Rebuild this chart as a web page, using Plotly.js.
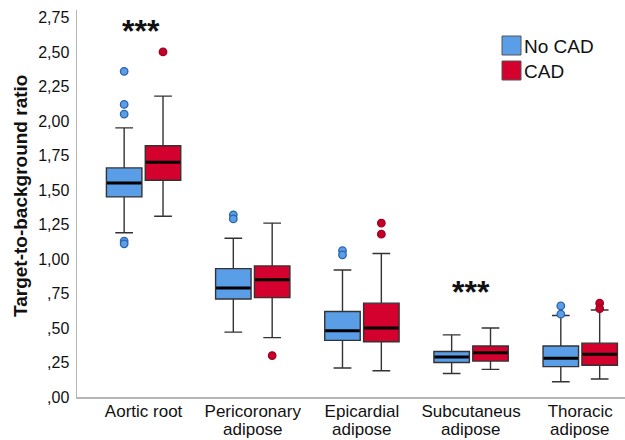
<!DOCTYPE html>
<html>
<head>
<meta charset="utf-8">
<script src="https://cdn.plot.ly/plotly-3.0.1.min.js"></script>
<style>html,body{margin:0;padding:0;background:#fff;}#chart{width:625px;height:440px;}</style>
</head>
<body>
<div id="chart"></div>
<script>
// ---- Data ----
const categories = ['Aortic root', 'Pericoronary', 'Epicardial', 'Subcutaneus', 'Thoracic'];
const categoryLine1 = ['Aortic root', 'Pericoronary', 'Epicardial', 'Subcutaneus', 'Thoracic'];
const categoryLine2 = ['', 'adipose', 'adipose', 'adipose', 'adipose'];

const noCadQ1     = [1.45, 0.71, 0.41, 0.25, 0.22];
const noCadMedian = [1.55, 0.79, 0.48, 0.29, 0.28];
const noCadQ3     = [1.66, 0.93, 0.62, 0.33, 0.37];
const noCadLow    = [1.19, 0.47, 0.21, 0.17, 0.11];
const noCadHigh   = [1.95, 1.15, 0.92, 0.45, 0.59];

const cadQ1     = [1.57, 0.72, 0.40, 0.26, 0.23];
const cadMedian = [1.70, 0.85, 0.50, 0.32, 0.31];
const cadQ3     = [1.82, 0.95, 0.68, 0.37, 0.39];
const cadLow    = [1.31, 0.43, 0.19, 0.20, 0.13];
const cadHigh   = [2.18, 1.26, 1.04, 0.50, 0.63];

const noCadOutX = ['Aortic root', 'Aortic root', 'Aortic root', 'Aortic root', 'Aortic root', 'Pericoronary', 'Pericoronary', 'Epicardial', 'Epicardial', 'Thoracic', 'Thoracic'];
const noCadOutY = [2.36, 2.12, 2.05, 1.13, 1.11, 1.32, 1.29, 1.06, 1.03, 0.66, 0.60];
const cadOutX = ['Aortic root', 'Pericoronary', 'Epicardial', 'Epicardial', 'Thoracic', 'Thoracic'];
const cadOutY = [2.50, 0.30, 1.26, 1.18, 0.68, 0.64];

const yTickVals = [0, 0.25, 0.5, 0.75, 1, 1.25, 1.5, 1.75, 2, 2.25, 2.5, 2.75];
const yTickText = [',00', ',25', ',50', ',75', '1,00', '1,25', '1,50', '1,75', '2,00', '2,25', '2,50', '2,75'];

const yTitle = 'Target-to-background ratio';
const seriesNames = ['No CAD', 'CAD'];
const sigLabels = ['***', '***'];
const sigCats = ['Aortic root', 'Subcutaneus'];
const sigY = [2.65, 0.76];

// ---- Styles ----
const FONT = 'Liberation Sans, Arial, sans-serif';
const BLUE = '#5b9ee8';
const RED = '#d4002e';
const GAP = 0.288;

function boxTrace(name, q1, med, q3, lo, hi, color, grp) {
  return {
    type: 'box', name: name, x: categories,
    q1: q1, median: med, q3: q3, lowerfence: lo, upperfence: hi,
    boxpoints: false, fillcolor: color, whiskerwidth: 0.5,
    line: {color: '#333333', width: 1.4},
    offsetgroup: grp, showlegend: false, hoverinfo: 'skip'
  };
}
function medianTrace(med, grp) {
  return {
    type: 'scatter', mode: 'markers', x: categories, y: med,
    offsetgroup: grp, alignmentgroup: 'g', showlegend: false, hoverinfo: 'skip',
    marker: {symbol: 'line-ew', size: 24.5, line: {color: '#000', width: 3}}
  };
}
function outTrace(xs, ys, fill, edge, grp) {
  return {
    type: 'scatter', mode: 'markers', x: xs, y: ys,
    offsetgroup: grp, alignmentgroup: 'g', showlegend: false, hoverinfo: 'skip',
    marker: {symbol: 'circle', size: 7.5, color: fill, line: {color: edge, width: 1.3}}
  };
}

const data = [
  boxTrace(seriesNames[0], noCadQ1, noCadMedian, noCadQ3, noCadLow, noCadHigh, BLUE, 'a'),
  boxTrace(seriesNames[1], cadQ1, cadMedian, cadQ3, cadLow, cadHigh, RED, 'b'),
  medianTrace(noCadMedian, 'a'),
  medianTrace(cadMedian, 'b'),
  outTrace(noCadOutX, noCadOutY, BLUE, '#2d62a8', 'a'),
  outTrace(cadOutX, cadOutY, '#c4002a', '#a00020', 'b')
];

const annotations = sigLabels.map((t, i) => ({
  x: sigCats[i], y: sigY[i], xref: 'x', yref: 'y', text: '<b>' + t + '</b>',
  showarrow: false, font: {family: FONT, size: 32, color: '#111'}, yanchor: 'middle',
  xshift: i === 0 ? -3 : 0
}));
// second line of the category labels
categories.forEach((c, i) => {
  if (categoryLine2[i]) annotations.push({
    x: c, xref: 'x', yref: 'paper', y: -(429.5 - 397) / 387, yanchor: 'middle',
    text: categoryLine2[i], showarrow: false, font: {family: FONT, size: 17, color: '#111'}
  });
});
// y-axis title
annotations.push({
  xref: 'paper', yref: 'paper', x: -(77 - 20) / 548, y: (397 - 196) / 387,
  xanchor: 'center', yanchor: 'middle', textangle: -90, showarrow: false,
  text: '<b>' + yTitle + '</b>', font: {family: FONT, size: 19, color: '#111'}
});
annotations.push(
  {xref: 'paper', yref: 'paper', x: (522 - 77) / 548, y: (397 - 46) / 387, xanchor: 'left', yanchor: 'middle',
   text: seriesNames[0], showarrow: false, font: {family: FONT, size: 19, color: '#111'}},
  {xref: 'paper', yref: 'paper', x: (522 - 77) / 548, y: (397 - 71) / 387, xanchor: 'left', yanchor: 'middle',
   text: seriesNames[1], showarrow: false, font: {family: FONT, size: 19, color: '#111'}}
);

const shapes = [
  {type: 'rect', xref: 'paper', yref: 'paper', x0: (502 - 77) / 548, x1: (521 - 77) / 548,
   y0: (397 - 55) / 387, y1: (397 - 36) / 387, fillcolor: BLUE, line: {color: '#555', width: 1}},
  {type: 'rect', xref: 'paper', yref: 'paper', x0: (502 - 77) / 548, x1: (521 - 77) / 548,
   y0: (397 - 80) / 387, y1: (397 - 61) / 387, fillcolor: RED, line: {color: '#555', width: 1}}
];

const layout = {
  width: 625, height: 440,
  margin: {l: 77, r: 0, t: 10, b: 43, pad: 0},
  paper_bgcolor: '#fff', plot_bgcolor: '#fff',
  font: {family: FONT, color: '#111'},
  boxmode: 'group', boxgap: GAP, boxgroupgap: 0.087,
  scattermode: 'group', scattergap: GAP,
  showlegend: false,
  xaxis: {
    type: 'category', range: [-0.61, 4.41],
    tickvals: categories, ticktext: categoryLine1,
    showline: true, linecolor: '#b5b5b5', linewidth: 1.5,
    showgrid: false, zeroline: false, ticks: '', ticklabelstandoff: -2,
    tickfont: {family: FONT, size: 17, color: '#111'}, fixedrange: true
  },
  yaxis: {
    range: [0, 2.804], tickvals: yTickVals, ticktext: yTickText,
    showline: true, linecolor: '#b5b5b5', linewidth: 1.5,
    showgrid: false, zeroline: false, ticks: 'outside', ticklen: 3, tickcolor: 'rgba(0,0,0,0)',
    tickfont: {family: FONT, size: 16, color: '#111'},
    fixedrange: true
  },
  annotations: annotations,
  shapes: shapes
};

Plotly.newPlot('chart', data, layout, {displayModeBar: false, staticPlot: true});
</script>
</body>
</html>
